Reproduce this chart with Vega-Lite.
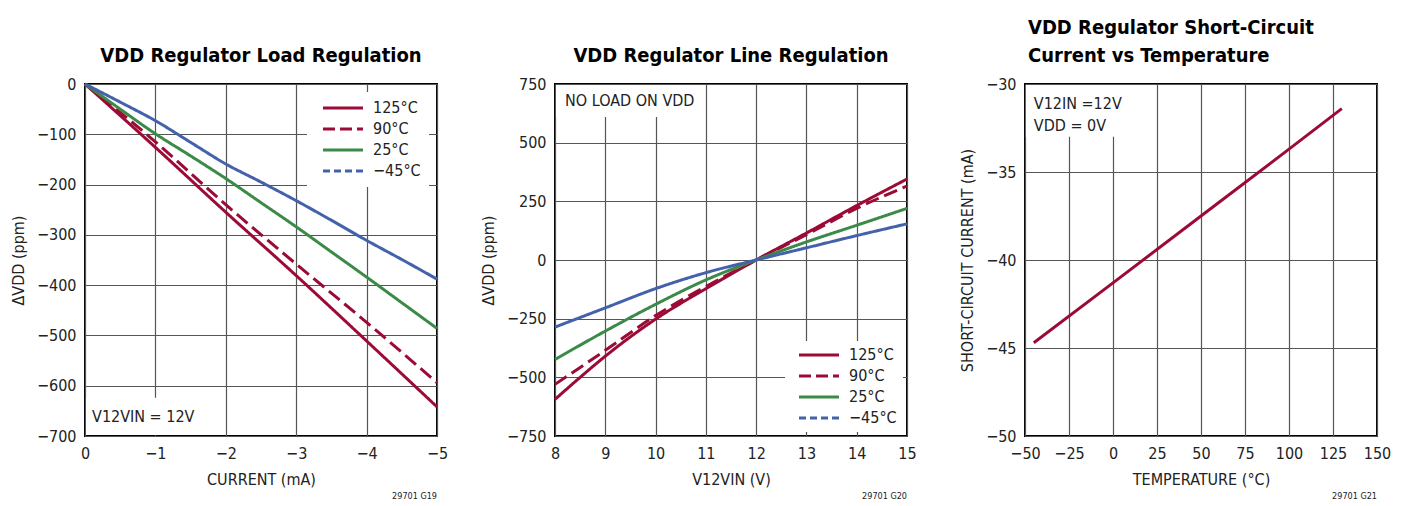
{
  "$schema": "https://vega.github.io/schema/vega-lite/v6.json",
  "padding": {"left": 9, "top": 17, "right": 0, "bottom": 0},
  "background": "white",
  "bounds": "flush",
  "spacing": 118,
  "config": {
    "font": "DejaVu Sans Condensed",
    "view": {"stroke": "black", "strokeWidth": 2},
    "axis": {
      "grid": true, "gridColor": "#555", "gridWidth": 1.2, "domain": false, "ticks": false,
      "labelFontSize": 16, "labelColor": "#222", "labelPadding": 9, "labelOverlap": false, "labelFlush": false,
      "titleFontSize": 16, "titleFontWeight": "normal", "titleColor": "#222", "titlePadding": 10
    },
    "title": {"fontSize": 20, "fontWeight": "bold", "color": "black", "font": "DejaVu Sans Condensed", "offset": 10},
    "legend": {
      "title": null, "labelFontSize": 16, "labelColor": "#222", "fillColor": "white",
      "symbolType": "M0,0L8,0", "symbolSize": 100, "symbolStrokeWidth": 3, "labelOffset": 42,
      "padding": 7, "rowPadding": 5, "offset": 8
    }
  },
  "hconcat": [
    {
      "width": 352, "height": 352,
      "title": {"text": "VDD Regulator Load Regulation", "anchor": "middle"},
      "layer": [
        {
          "data": {"values": [{}]},
          "mark": {"type": "rect", "fill": "white"},
          "encoding": {"x": {"datum": -0.015}, "x2": {"datum": -1.6}, "y": {"datum": -698}, "y2": {"datum": -624}}
        },
        {
          "data": {"values": [
            {"series": "125°C", "current": 0, "dv": 0},
            {"series": "125°C", "current": -1, "dv": -126},
            {"series": "125°C", "current": -2, "dv": -255},
            {"series": "125°C", "current": -3, "dv": -381},
            {"series": "125°C", "current": -4, "dv": -511},
            {"series": "125°C", "current": -5, "dv": -642},
            {"series": "90°C", "current": 0, "dv": 0},
            {"series": "90°C", "current": -1, "dv": -115},
            {"series": "90°C", "current": -2, "dv": -240},
            {"series": "90°C", "current": -3, "dv": -358},
            {"series": "90°C", "current": -4, "dv": -474},
            {"series": "90°C", "current": -5, "dv": -594},
            {"series": "25°C", "current": 0, "dv": 0},
            {"series": "25°C", "current": -0.5, "dv": -50},
            {"series": "25°C", "current": -1, "dv": -99},
            {"series": "25°C", "current": -1.5, "dv": -143},
            {"series": "25°C", "current": -2, "dv": -188},
            {"series": "25°C", "current": -2.5, "dv": -236},
            {"series": "25°C", "current": -3, "dv": -284},
            {"series": "25°C", "current": -3.5, "dv": -334},
            {"series": "25°C", "current": -4, "dv": -384},
            {"series": "25°C", "current": -4.5, "dv": -435},
            {"series": "25°C", "current": -5, "dv": -486},
            {"series": "−45°C", "current": 0, "dv": 0},
            {"series": "−45°C", "current": -0.5, "dv": -36},
            {"series": "−45°C", "current": -1, "dv": -73},
            {"series": "−45°C", "current": -1.5, "dv": -116},
            {"series": "−45°C", "current": -2, "dv": -159},
            {"series": "−45°C", "current": -2.5, "dv": -195},
            {"series": "−45°C", "current": -3, "dv": -232},
            {"series": "−45°C", "current": -3.5, "dv": -271},
            {"series": "−45°C", "current": -4, "dv": -311},
            {"series": "−45°C", "current": -4.5, "dv": -349},
            {"series": "−45°C", "current": -5, "dv": -388}
          ]},
          "mark": {"type": "line", "strokeWidth": 3, "interpolate": "monotone"},
          "encoding": {
            "x": {"field": "current", "type": "quantitative", "title": "CURRENT (mA)",
                  "scale": {"domain": [-5, 0], "reverse": true, "nice": false, "zero": false},
                  "axis": {"values": [0, -1, -2, -3, -4, -5], "format": "d"}},
            "y": {"field": "dv", "type": "quantitative", "title": "ΔVDD (ppm)",
                  "scale": {"domain": [-700, 0], "nice": false, "zero": false}, "axis": {"values": [0, -100, -200, -300, -400, -500, -600, -700]}},
            "color": {"field": "series", "type": "nominal",
                      "scale": {"domain": ["125°C", "90°C", "25°C", "−45°C"], "range": ["#9b0b36", "#9b0b36", "#3b8a47", "#4462ab"]},
                      "legend": {"orient": "top-right", "offset": 8, "padding": 8,
                                 "encode": {"symbols": {"update": {"strokeDash": {"signal": "datum.value == '−45°C' ? [7,4] : datum.value == '90°C' ? [12,5] : [1,0]"}}}}}},
            "strokeDash": {"field": "series", "type": "nominal", "legend": null,
                           "scale": {"domain": ["125°C", "90°C", "25°C", "−45°C"], "range": [[1, 0], [14, 6], [1, 0], [1, 0]]}},
            "order": {"field": "current", "type": "quantitative", "sort": "descending"}
          }
        },
        {
          "data": {"values": [{}]},
          "mark": {"type": "text", "align": "left", "baseline": "alphabetic", "fontSize": 16, "color": "#222", "text": "V12VIN = 12V"},
          "encoding": {"x": {"datum": -0.1}, "y": {"datum": -672}}
        },
        {
          "data": {"values": [{}]},
          "mark": {"type": "text", "align": "right", "baseline": "alphabetic", "fontSize": 9, "color": "#222", "dy": 63, "text": "29701 G19"},
          "encoding": {"x": {"datum": -5}, "y": {"datum": -700}}
        }
      ]
    },
    {
      "width": 352, "height": 352,
      "title": {"text": "VDD Regulator Line Regulation", "anchor": "middle"},
      "layer": [
        {
          "data": {"values": [{}]},
          "mark": {"type": "rect", "fill": "white"},
          "encoding": {"x": {"datum": 8.02}, "x2": {"datum": 10.75}, "y": {"datum": 746}, "y2": {"datum": 609}}
        },
        {
          "data": {"values": [
            {"series": "125°C", "v": 8, "dv": -594},
            {"series": "125°C", "v": 8.5, "dv": -500},
            {"series": "125°C", "v": 9, "dv": -410},
            {"series": "125°C", "v": 10, "dv": -252},
            {"series": "125°C", "v": 11, "dv": -122},
            {"series": "125°C", "v": 12, "dv": 0},
            {"series": "125°C", "v": 13, "dv": 115},
            {"series": "125°C", "v": 14, "dv": 232},
            {"series": "125°C", "v": 15, "dv": 345},
            {"series": "90°C", "v": 8, "dv": -530},
            {"series": "90°C", "v": 9, "dv": -385},
            {"series": "90°C", "v": 10, "dv": -237},
            {"series": "90°C", "v": 11, "dv": -113},
            {"series": "90°C", "v": 12, "dv": 0},
            {"series": "90°C", "v": 13, "dv": 108},
            {"series": "90°C", "v": 14, "dv": 220},
            {"series": "90°C", "v": 15, "dv": 315},
            {"series": "25°C", "v": 8, "dv": -424},
            {"series": "25°C", "v": 9, "dv": -303},
            {"series": "25°C", "v": 10, "dv": -189},
            {"series": "25°C", "v": 11, "dv": -85},
            {"series": "25°C", "v": 12, "dv": 0},
            {"series": "25°C", "v": 13, "dv": 77},
            {"series": "25°C", "v": 14, "dv": 148},
            {"series": "25°C", "v": 15, "dv": 220},
            {"series": "−45°C", "v": 8, "dv": -286},
            {"series": "−45°C", "v": 9, "dv": -204},
            {"series": "−45°C", "v": 10, "dv": -122},
            {"series": "−45°C", "v": 11, "dv": -54},
            {"series": "−45°C", "v": 12, "dv": 0},
            {"series": "−45°C", "v": 13, "dv": 52},
            {"series": "−45°C", "v": 14, "dv": 104},
            {"series": "−45°C", "v": 15, "dv": 154}
          ]},
          "mark": {"type": "line", "strokeWidth": 3, "interpolate": "monotone"},
          "encoding": {
            "x": {"field": "v", "type": "quantitative", "title": "V12VIN (V)",
                  "scale": {"domain": [8, 15], "nice": false, "zero": false}, "axis": {"values": [8, 9, 10, 11, 12, 13, 14, 15]}},
            "y": {"field": "dv", "type": "quantitative", "title": "ΔVDD (ppm)",
                  "scale": {"domain": [-750, 750], "nice": false, "zero": false}, "axis": {"values": [-750, -500, -250, 0, 250, 500, 750]}},
            "color": {"field": "series", "type": "nominal",
                      "scale": {"domain": ["125°C", "90°C", "25°C", "−45°C"], "range": ["#9b0b36", "#9b0b36", "#3b8a47", "#4462ab"]},
                      "legend": {"orient": "bottom-right", "offset": 4, "padding": 6,
                                 "encode": {"symbols": {"update": {"strokeDash": {"signal": "datum.value == '−45°C' ? [7,4] : datum.value == '90°C' ? [12,5] : [1,0]"}}}}}},
            "strokeDash": {"field": "series", "type": "nominal", "legend": null,
                           "scale": {"domain": ["125°C", "90°C", "25°C", "−45°C"], "range": [[1, 0], [14, 6], [1, 0], [7, 4]]}}
          }
        },
        {
          "data": {"values": [{}]},
          "mark": {"type": "text", "align": "left", "baseline": "alphabetic", "fontSize": 16, "color": "#222", "text": "NO LOAD ON VDD"},
          "encoding": {"x": {"datum": 8.2}, "y": {"datum": 656}}
        },
        {
          "data": {"values": [{}]},
          "mark": {"type": "text", "align": "right", "baseline": "alphabetic", "fontSize": 9, "color": "#222", "dy": 63, "text": "29701 G20"},
          "encoding": {"x": {"datum": 15}, "y": {"datum": -750}}
        }
      ]
    },
    {
      "width": 352, "height": 352,
      "title": {"text": ["VDD Regulator Short-Circuit", "Current vs Temperature"], "anchor": "start", "frame": "group", "dx": 3, "lineHeight": 28},
      "layer": [
        {
          "data": {"values": [{}]},
          "mark": {"type": "rect", "fill": "white"},
          "encoding": {"x": {"datum": -49.5}, "x2": {"datum": 4}, "y": {"datum": -30.06}, "y2": {"datum": -33.0}}
        },
        {
          "data": {"values": [
            {"temp": -45, "isc": -44.7},
            {"temp": 0, "isc": -41.3},
            {"temp": 50, "isc": -37.5},
            {"temp": 100, "isc": -33.7},
            {"temp": 130, "isc": -31.4}
          ]},
          "mark": {"type": "line", "strokeWidth": 3, "color": "#9b0b36"},
          "encoding": {
            "x": {"field": "temp", "type": "quantitative", "title": "TEMPERATURE (°C)",
                  "scale": {"domain": [-50, 150], "nice": false, "zero": false}, "axis": {"values": [-50, -25, 0, 25, 50, 75, 100, 125, 150]}},
            "y": {"field": "isc", "type": "quantitative", "title": "SHORT-CIRCUIT CURRENT (mA)",
                  "scale": {"domain": [-50, -30], "nice": false, "zero": false}, "axis": {"values": [-50, -45, -40, -35, -30]}}
          }
        },
        {
          "data": {"values": [{}]},
          "mark": {"type": "text", "align": "left", "baseline": "alphabetic", "fontSize": 16, "color": "#222", "lineHeight": 22, "text": ["V12IN =12V", "VDD = 0V"]},
          "encoding": {"x": {"datum": -45}, "y": {"datum": -31.42}}
        },
        {
          "data": {"values": [{}]},
          "mark": {"type": "text", "align": "right", "baseline": "alphabetic", "fontSize": 9, "color": "#222", "dy": 63, "text": "29701 G21"},
          "encoding": {"x": {"datum": 150}, "y": {"datum": -50}}
        }
      ]
    }
  ]
}
